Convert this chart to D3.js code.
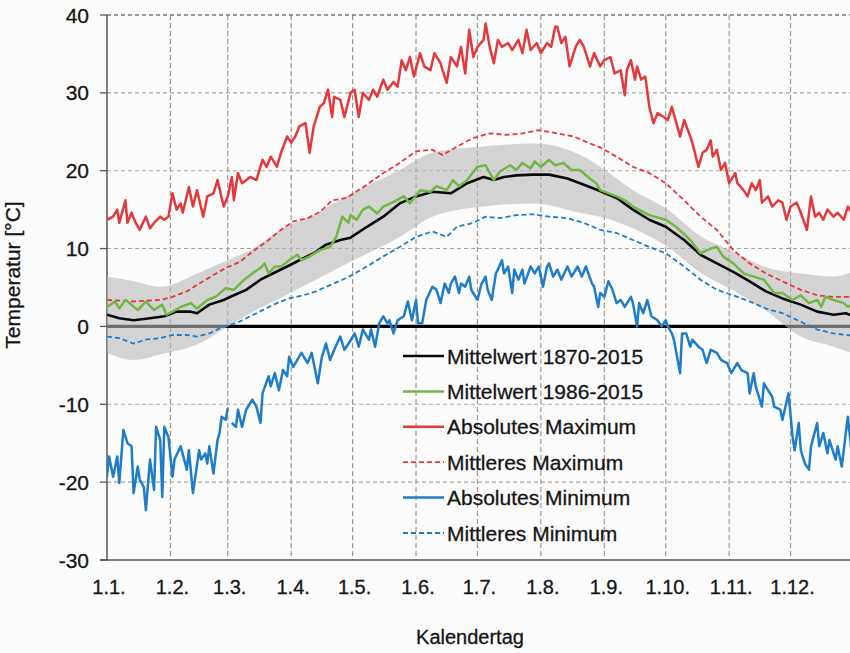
<!DOCTYPE html>
<html><head><meta charset="utf-8">
<script src="https://cdn.jsdelivr.net/npm/d3@7"></script>
<style>
body{margin:0;background:#fcfcfc}
svg{display:block}
text{font-family:"Liberation Sans",Arial,Helvetica,sans-serif;fill:#151515;stroke:#151515;stroke-width:0.3px}
</style>
</head><body>
<svg id="c" width="850" height="653"></svg>
<script>
// ---- data ----
const monthStarts = [0,31,59,90,120,151,181,212,243,273,304,334];
const monthLabels = ["1.1.","1.2.","1.3.","1.4.","1.5.","1.6.","1.7.","1.8.","1.9.","1.10.","1.11.","1.12."];
const yTicks = [-30,-20,-10,0,10,20,30,40];

const mean1870 = [[0,1.5],[6,1.05],[13,0.8],[21,1.05],[28,1.3],[34,1.9],[41,1.9],[44,1.7],[50,2.8],[57,3.4],[62,4.0],[68,4.7],[75,6.0],[81,6.8],[88,7.7],[94,8.5],[101,9.4],[107,10.5],[114,11.1],[119,11.4],[127,12.8],[135,14.1],[143,15.8],[151,16.7],[159,17.3],[168,17.1],[176,18.4],[184,19.2],[189,18.8],[194,19.2],[200,19.4],[208,19.5],[216,19.5],[225,19.0],[233,18.2],[240,17.5],[249,16.5],[257,15.0],[265,13.7],[273,12.8],[282,11.1],[290,9.2],[298,8.1],[306,7.0],[314,5.8],[322,4.5],[330,3.6],[339,2.8],[347,1.9],[355,1.5],[361,1.7],[364,1.4]];

const mean1986 = [[0,2.5],[4,3.2],[6,2.3],[9,3.4],[11,3.0],[15,2.1],[19,3.2],[23,2.1],[27,2.8],[29,1.5],[32,1.9],[36,2.5],[41,3.0],[44,2.3],[49,3.4],[53,3.8],[58,4.9],[62,4.7],[67,6.0],[71,6.8],[75,7.5],[77,8.1],[79,6.8],[82,7.7],[85,7.7],[89,8.5],[93,9.2],[95,8.5],[99,9.0],[104,9.8],[109,10.2],[112,11.5],[115,14.1],[118,13.3],[119,14.3],[122,13.7],[125,15.0],[128,15.4],[132,14.5],[135,15.4],[140,16.0],[145,16.7],[148,15.8],[153,17.5],[158,17.3],[161,18.0],[166,17.5],[169,18.8],[172,18.0],[176,18.8],[181,20.5],[185,20.7],[189,18.8],[192,19.9],[197,20.7],[200,20.1],[203,21.0],[207,20.3],[209,21.2],[212,20.5],[216,21.4],[219,20.7],[223,21.0],[227,20.1],[231,20.1],[235,19.2],[239,18.4],[241,17.5],[249,16.7],[253,16.2],[257,15.4],[265,14.3],[273,13.7],[278,12.8],[285,11.1],[290,9.4],[295,10.0],[298,10.2],[301,9.0],[306,8.1],[311,6.8],[316,6.4],[321,6.0],[326,4.3],[330,4.3],[335,3.4],[339,4.0],[343,3.0],[347,3.4],[349,2.5],[351,3.8],[355,3.4],[360,3.0],[362,2.5],[364,2.8]];

const absMax = [[0,13.7],[3,14.1],[5,15.0],[6,13.3],[9,16.2],[10,13.3],[12,14.6],[14,13.3],[16,12.4],[19,14.1],[21,12.6],[23,13.3],[26,14.1],[28,13.7],[30,14.1],[32,17.1],[34,15.0],[36,15.8],[37,14.6],[40,17.9],[42,15.4],[44,17.5],[47,14.1],[49,16.7],[52,17.1],[54,18.8],[57,15.4],[59,16.7],[61,19.2],[62,16.2],[64,19.7],[66,18.4],[70,19.2],[73,18.8],[76,21.4],[78,20.5],[80,21.8],[83,20.5],[85,22.3],[88,24.4],[90,23.6],[92,24.4],[94,25.7],[97,26.1],[99,22.3],[101,25.7],[104,28.2],[106,28.7],[108,30.4],[110,26.9],[111,29.5],[114,29.1],[116,26.9],[119,30.0],[121,30.4],[123,26.9],[125,30.0],[128,29.1],[130,30.4],[132,29.5],[135,31.7],[137,30.4],[140,31.4],[142,30.8],[144,34.2],[146,32.9],[148,34.6],[150,32.1],[153,35.1],[155,33.4],[158,32.9],[160,35.1],[163,33.8],[164,32.9],[166,31.3],[168,34.6],[171,33.4],[173,35.9],[175,32.5],[177,38.1],[179,34.6],[181,35.9],[184,36.8],[185,38.9],[187,35.9],[189,33.8],[191,36.8],[193,35.9],[196,36.4],[198,35.5],[201,36.8],[203,35.1],[205,38.1],[207,35.5],[210,36.4],[212,35.1],[215,36.4],[217,35.9],[219,38.5],[220,38.5],[222,36.4],[224,37.2],[226,33.4],[229,35.9],[231,36.8],[233,35.9],[236,33.4],[238,35.1],[241,33.4],[243,34.2],[246,34.6],[248,32.5],[251,32.9],[253,29.7],[254,32.9],[256,34.2],[258,31.7],[259,33.4],[261,31.7],[263,32.1],[265,28.2],[267,26.1],[269,27.4],[272,26.9],[274,26.5],[276,28.2],[280,24.4],[282,26.5],[285,24.4],[286,23.6],[289,20.5],[291,22.3],[293,22.7],[295,23.9],[296,21.8],[298,22.7],[300,20.1],[302,21.0],[304,18.4],[307,19.7],[308,18.4],[311,17.5],[313,16.7],[315,18.4],[317,17.5],[319,18.8],[320,15.9],[323,16.7],[325,15.4],[328,16.2],[330,15.9],[332,13.7],[334,15.4],[337,15.9],[339,14.6],[342,12.4],[344,16.7],[346,14.1],[348,14.6],[350,13.7],[352,15.0],[355,14.1],[357,14.6],[360,13.7],[362,15.4],[364,14.5]];

const meanMax = [[0,3.4],[13,3.2],[26,3.4],[32,3.8],[39,4.5],[45,5.5],[52,6.6],[58,7.5],[65,8.3],[71,9.6],[78,10.9],[84,12.2],[91,13.5],[98,13.9],[104,14.7],[110,16.2],[117,16.5],[127,18.2],[135,19.7],[143,21.0],[151,22.5],[159,22.7],[164,22.0],[171,23.1],[179,24.2],[187,24.8],[195,24.6],[203,24.8],[211,25.2],[220,24.8],[228,24.4],[236,23.5],[241,23.0],[249,21.8],[257,20.5],[265,19.7],[273,18.4],[282,16.2],[290,14.1],[298,12.4],[306,9.8],[314,8.1],[322,6.8],[330,5.8],[339,4.7],[347,4.0],[355,3.8],[364,3.8]];

const absMin = [[0,-19.3],[1,-16.7],[3,-19.3],[5,-16.7],[6,-20.1],[8,-13.3],[10,-15.0],[12,-15.4],[13,-21.4],[15,-18.0],[16,-19.7],[18,-20.6],[19,-23.6],[21,-17.1],[23,-21.0],[24,-12.9],[26,-14.6],[27,-21.9],[28,-12.9],[30,-14.2],[32,-19.3],[33,-17.1],[36,-15.4],[39,-18.4],[40,-15.9],[42,-21.4],[45,-15.9],[46,-17.1],[48,-16.3],[49,-17.6],[50,-15.4],[52,-18.9],[54,-14.6],[55,-13.7],[56,-11.6],[58,-12.0],[59,-10.5],[60,null],[61,-12.4],[63,-12.9],[64,-10.7],[66,-12.9],[68,-10.7],[71,-9.4],[73,-10.3],[75,-12.4],[76,-8.6],[79,-6.4],[80,-7.7],[82,-6.0],[84,-8.2],[86,-5.6],[88,-6.4],[89,-3.9],[91,-5.2],[93,-4.3],[95,-3.4],[98,-4.7],[100,-3.4],[103,-7.3],[105,-3.9],[107,-2.2],[109,-4.3],[111,-3.0],[114,-1.3],[116,-3.0],[119,-1.8],[121,-0.9],[123,-2.6],[125,-0.4],[128,-1.7],[129,-0.4],[131,-2.6],[133,0.4],[135,1.3],[137,0.4],[138,0.8],[140,-0.9],[142,0.8],[145,1.3],[147,3.2],[149,0.8],[151,3.4],[152,0.4],[154,0.4],[156,3.4],[159,5.1],[161,4.7],[163,3.0],[165,5.5],[167,4.3],[168,5.5],[170,6.4],[172,4.3],[173,5.5],[175,5.1],[177,6.4],[178,4.7],[181,3.4],[183,5.5],[185,6.4],[186,4.7],[188,3.4],[190,6.8],[191,7.3],[193,8.5],[194,6.8],[196,7.7],[198,4.3],[199,7.3],[201,6.0],[203,7.3],[204,5.5],[207,7.7],[209,6.8],[211,7.7],[213,5.1],[215,7.7],[216,8.1],[218,6.4],[220,7.3],[222,6.0],[225,7.7],[227,6.4],[230,7.7],[232,6.4],[234,7.7],[237,5.5],[238,5.1],[240,2.5],[241,4.3],[243,3.8],[245,5.8],[247,4.7],[249,3.0],[251,3.4],[253,2.5],[256,3.8],[257,3.0],[259,0.0],[260,3.0],[262,1.7],[264,3.4],[266,1.3],[269,0.8],[271,0.0],[273,0.8],[274,0.0],[276,-0.9],[277,-1.7],[280,-6.0],[281,-0.9],[283,-0.9],[285,-2.6],[286,-1.7],[289,-2.6],[291,-3.0],[293,-4.7],[295,-3.0],[298,-3.4],[300,-4.3],[303,-4.7],[305,-6.0],[308,-4.7],[310,-5.6],[313,-6.0],[314,-8.6],[316,-6.0],[317,-7.7],[320,-10.3],[321,-7.3],[323,-8.2],[325,-9.0],[326,-10.3],[329,-10.7],[330,-12.0],[333,-8.6],[335,-14.2],[336,-15.9],[338,-12.4],[339,-15.9],[341,-17.6],[343,-18.4],[344,-15.4],[347,-12.4],[348,-15.4],[350,-13.7],[352,-16.3],[353,-14.6],[356,-17.1],[357,-15.4],[359,-18.0],[361,-13.7],[362,-11.6],[364,-16.5]];

const meanMin = [[0,-1.3],[6,-1.5],[13,-2.2],[19,-1.7],[26,-1.5],[32,-1.1],[39,-1.1],[44,-1.3],[50,-0.9],[57,0.0],[63,0.4],[70,1.3],[76,2.1],[83,3.0],[89,3.6],[96,4.0],[102,4.5],[109,5.3],[115,6.0],[119,6.5],[127,7.7],[135,9.0],[143,10.2],[151,11.5],[159,12.2],[166,11.5],[171,12.8],[179,13.3],[185,14.1],[192,13.9],[200,14.3],[208,14.4],[216,14.1],[225,13.9],[233,13.3],[241,12.4],[249,12.0],[257,11.1],[265,10.2],[273,9.4],[282,7.7],[290,6.0],[298,4.7],[306,4.0],[314,3.2],[322,2.3],[330,1.7],[339,0.6],[347,-0.4],[355,-0.9],[362,-1.1],[364,-1.2]];

const bandDays  = [0,13,26,45,59,70,86,102,119,143,159,184,208,233,241,257,274,290,306,322,339,355,364];
const bandUpper = [6.4,5.8,5.1,6.9,8.5,9.8,12.6,14.5,17.0,20.1,22.3,23.1,23.5,21.8,20.5,17.5,15.0,11.6,9.6,7.6,6.8,6.4,7.0];
const bandLower = [-3.4,-4.3,-3.6,-2.2,0.0,1.7,3.8,6.0,8.3,11.5,14.1,15.4,15.8,14.5,14.1,12.6,10.2,6.9,4.6,2.0,-1.3,-2.6,-3.4];

const legendLabels = ["Mittelwert 1870-2015","Mittelwert 1986-2015","Absolutes Maximum","Mittleres Maximum","Absolutes Minimum","Mittleres Minimum"];

// ---- chart ----
const svg = d3.select("#c");
const W = 850, H = 653;
const x = d3.scaleLinear().domain([0,365]).range([107,854]);
const y = d3.scaleLinear().domain([-30,40]).range([560,15]);

svg.append("rect").attr("width",W).attr("height",H).attr("fill","#fcfcfc");
svg.append("defs").append("clipPath").attr("id","plot")
  .append("rect").attr("x",107).attr("y",0).attr("width",W-107).attr("height",562);

const grid = svg.append("g");
grid.selectAll("line.v").data(monthStarts.slice(1)).join("line")
  .attr("x1",d=>x(d)).attr("x2",d=>x(d)).attr("y1",y(40)).attr("y2",y(-30))
  .attr("stroke","#9c9690").attr("stroke-width",1.2).attr("stroke-dasharray","5,3");
grid.selectAll("line.h").data(yTicks.filter(t=>t>-30)).join("line")
  .attr("x1",x(0)).attr("x2",W).attr("y1",d=>y(d)).attr("y2",d=>y(d))
  .attr("stroke",d=>d===40?"#7a7672":"#a8a29c").attr("stroke-width",d=>d===40?1.6:1.1)
  .attr("stroke-dasharray","4,3");

// axes
svg.append("line").attr("x1",x(0)).attr("x2",x(0)).attr("y1",y(40)).attr("y2",y(-30))
  .attr("stroke","#5a5552").attr("stroke-width",1.5);
svg.append("line").attr("x1",100).attr("x2",W).attr("y1",y(-30)).attr("y2",y(-30))
  .attr("stroke","#5a5552").attr("stroke-width",1.5);
svg.selectAll("line.yt").data(yTicks).join("line")
  .attr("x1",100).attr("x2",x(0)).attr("y1",d=>y(d)).attr("y2",d=>y(d))
  .attr("stroke","#5a5552").attr("stroke-width",1.3);
svg.selectAll("text.yl").data(yTicks).join("text")
  .attr("x",89).attr("y",d=>y(d)).attr("dy","0.36em").attr("text-anchor","end")
  .attr("font-size",21).text(d=>d);
svg.selectAll("text.xl").data(monthStarts).join("text")
  .attr("x",d=>x(d)+2).attr("y",594).attr("text-anchor","middle")
  .attr("font-size",20).text((d,i)=>monthLabels[i]);

svg.append("text").attr("transform","translate(20,275) rotate(-90)")
  .attr("text-anchor","middle").attr("font-size",21).text("Temperatur [°C]");
svg.append("text").attr("x",470).attr("y",644).attr("text-anchor","middle")
  .attr("font-size",20).text("Kalendertag");

const plot = svg.append("g").attr("clip-path","url(#plot)");

// zero line
plot.append("line").attr("x1",x(0)).attr("x2",W).attr("y1",y(0)).attr("y2",y(0))
  .attr("stroke","#000").attr("stroke-width",3.2);

// band
const band = bandDays.map((d,i)=>({d, u:bandUpper[i], l:bandLower[i]}));
plot.append("path").datum(band)
  .attr("d", d3.area().x(p=>x(p.d)).y0(p=>y(p.l)).y1(p=>y(p.u)).curve(d3.curveMonotoneX))
  .attr("fill","#b8b8b8").attr("fill-opacity",0.6);

const line = d3.line().defined(p=>p[1]!==null).x(p=>x(p[0])).y(p=>y(p[1]));
const series = [
  {data:meanMax, color:"#e4393c", w:1.8, dash:"5,3"},
  {data:meanMin, color:"#1f7cc7", w:1.8, dash:"5,3"},
  {data:mean1870, color:"#0a0a0a", w:2.6, dash:null},
  {data:mean1986, color:"#72b645", w:2.5, dash:null},
  {data:absMax, color:"#e4393c", w:2.5, dash:null},
  {data:absMin, color:"#1f7cc7", w:2.5, dash:null}
];
series.forEach(s=>{
  plot.append("path").datum(s.data).attr("d",line)
    .attr("fill","none").attr("stroke",s.color).attr("stroke-width",s.w)
    .attr("stroke-linejoin","round").attr("stroke-dasharray",s.dash);
});

// legend
const legItems = [
  {color:"#0a0a0a", w:2.6, dash:null},
  {color:"#72b645", w:2.5, dash:null},
  {color:"#e4393c", w:2.5, dash:null},
  {color:"#e4393c", w:1.8, dash:"5,3"},
  {color:"#1f7cc7", w:2.5, dash:null},
  {color:"#1f7cc7", w:1.8, dash:"5,3"}
];
const leg = svg.append("g");
legendLabels.forEach((lab,i)=>{
  const cy = 356 + i*35.4;
  leg.append("line").attr("x1",403).attr("x2",444).attr("y1",cy).attr("y2",cy)
    .attr("stroke",legItems[i].color).attr("stroke-width",legItems[i].w)
    .attr("stroke-dasharray",legItems[i].dash);
  leg.append("text").attr("x",447).attr("y",cy).attr("dy","0.36em")
    .attr("font-size",21).text(lab);
});
</script>
</body></html>
